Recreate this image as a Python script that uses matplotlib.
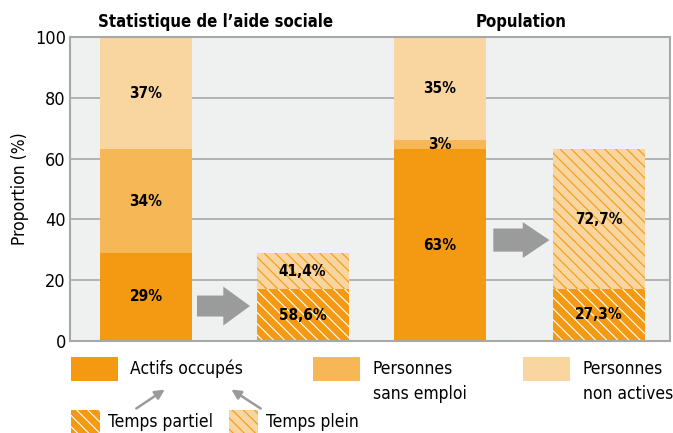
import numpy as np
from matplotlib import pyplot as plt
import matplotlib.patches as mpatches
from matplotlib import font_manager

# data
groups = ['Statistique de l\u2019aide sociale', 'Population']
# stacked bars: actifs occupés, sans emploi, non actives
actifs = [29, 63]
sans_emploi = [34, 3]
non_actives = [37, 34]
stack_labels = [['29%', '34%', '37%'], ['63%', '3%', '35%']]
# breakdown of actifs occupés
partiel = [17.0, 17.2]
plein = [12.0, 45.8]
split_labels = [['58,6%', '41,4%'], ['27,3%', '72,7%']]

c_dark = '#F39A12'
c_mid = '#F6B757'
c_light = '#F9D5A0'
bg = '#EFF0F0'

names = set(f.name for f in font_manager.fontManager.ttflist)
if 'Liberation Sans Narrow' in names:
    plt.rcParams['font.family'] = ['Liberation Sans Narrow', 'DejaVu Sans']
else:
    plt.rcParams['font.family'] = ['DejaVu Sans']
    plt.rcParams['font.stretch'] = 'condensed'
plt.rcParams['hatch.linewidth'] = 0.8
HATCH = '\\\\\\'

fig = plt.figure(figsize=(6.73, 4.33), dpi=100)
ax = fig.add_axes([70/673, 92/433, 600/673, 304/433])
ax.set_facecolor(bg)

stack_x = [0.826, 4.016]
split_x = [2.527, 5.75]
w = 1.0

for i in range(2):
    x = stack_x[i]
    ax.bar(x, actifs[i], w, color=c_dark, zorder=2)
    ax.bar(x, sans_emploi[i], w, bottom=actifs[i], color=c_mid, zorder=2)
    ax.bar(x, non_actives[i], w, bottom=actifs[i] + sans_emploi[i], color=c_light, zorder=2)
    mids = [actifs[i] / 2, actifs[i] + sans_emploi[i] / 2,
            actifs[i] + sans_emploi[i] + non_actives[i] / 2]
    for m, t in zip(mids, stack_labels[i]):
        ax.text(x, m, t, ha='center', va='center', fontsize=11, fontweight='bold', zorder=4)

    x = split_x[i]
    ax.bar(x, partiel[i], w, color=c_dark, edgecolor='white', linewidth=0, hatch=HATCH, zorder=2)
    ax.bar(x, plein[i], w, bottom=partiel[i], color=c_light, edgecolor=c_dark,
           linewidth=0, hatch=HATCH, zorder=2)
    ax.text(x, partiel[i] / 2, split_labels[i][0], ha='center', va='center',
            fontsize=11, fontweight='bold', zorder=4)
    ax.text(x, partiel[i] + plein[i] / 2, split_labels[i][1], ha='center', va='center',
            fontsize=11, fontweight='bold', zorder=4)

# gray block arrows
ax.add_patch(mpatches.FancyArrow(1.38, 11.5, 0.576, 0, width=6.9, head_width=12.8,
                                 head_length=0.29, length_includes_head=True,
                                 color='#9B9B9B', lw=0, zorder=3))
ax.add_patch(mpatches.FancyArrow(4.6, 33.2, 0.61, 0, width=7.6, head_width=11.8,
                                 head_length=0.29, length_includes_head=True,
                                 color='#9B9B9B', lw=0, zorder=3))

ax.set_xlim(0, 6.52)
ax.set_ylim(0, 100)
ax.set_yticks([0, 20, 40, 60, 80, 100])
ax.set_xticks([])
ax.yaxis.grid(True, color='#A8A8A8', linewidth=1.2, zorder=1)
ax.set_axisbelow(True)
for s in ax.spines.values():
    s.set_color('#A8A8A8')
    s.set_linewidth(1.5)
ax.tick_params(axis='y', labelsize=13, length=0, pad=3)
ax.set_ylabel('Proportion (%)', fontsize=12.5, labelpad=4)

# titles over groups
ax.text(1.58, 102, groups[0], ha='center', va='bottom', fontsize=12, fontweight='bold')
ax.text(4.9, 102, groups[1], ha='center', va='bottom', fontsize=12, fontweight='bold')

# legend drawn in pixel coordinates
lg = fig.add_axes([0, 0, 1, 1], facecolor='none')
lg.set_xlim(0, 673)
lg.set_ylim(433, 0)
lg.axis('off')

def box(x0, y0, x1, y1, fc, hc=None):
    if hc is None:
        lg.add_patch(mpatches.Rectangle((x0, y0), x1 - x0, y1 - y0, facecolor=fc, lw=0))
    else:
        lg.add_patch(mpatches.Rectangle((x0, y0), x1 - x0, y1 - y0, facecolor=fc,
                                        edgecolor=hc, lw=0, hatch=HATCH))

fs = 12.5
box(71, 357, 118, 381, c_dark)
lg.text(130, 369, 'Actifs occupés', fontsize=fs, va='center')
box(313, 357, 360, 381, c_mid)
lg.text(373, 369, 'Personnes', fontsize=fs, va='center')
lg.text(373, 394, 'sans emploi', fontsize=fs, va='center')
box(523, 357, 570, 381, c_light)
lg.text(583, 369, 'Personnes', fontsize=fs, va='center')
lg.text(583, 394, 'non actives', fontsize=fs, va='center')

box(71, 410, 100, 433, c_dark, 'white')
lg.text(108, 422, 'Temps partiel', fontsize=fs, va='center')
box(229, 410, 258, 433, c_light, c_dark)
lg.text(266, 422, 'Temps plein', fontsize=fs, va='center')

lg.annotate('', xy=(167, 388), xytext=(134, 410),
            arrowprops=dict(arrowstyle='-|>', color='#9B9B9B', lw=1.8, mutation_scale=14))
lg.annotate('', xy=(229, 388), xytext=(263, 410),
            arrowprops=dict(arrowstyle='-|>', color='#9B9B9B', lw=1.8, mutation_scale=14))

fig.savefig('out.png', dpi=100)
